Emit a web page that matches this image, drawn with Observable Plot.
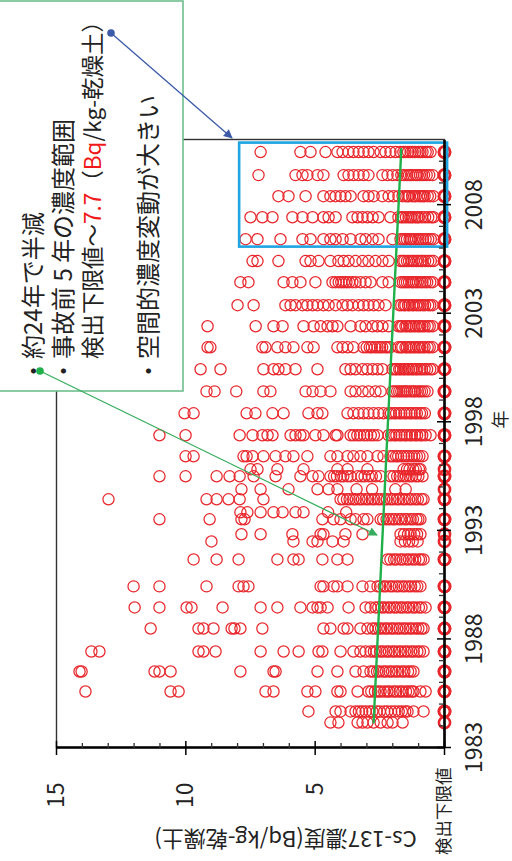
<!DOCTYPE html>
<html><head><meta charset="utf-8">
<script src="https://cdn.jsdelivr.net/npm/d3@7"></script>
<script src="https://cdn.jsdelivr.net/npm/@observablehq/plot@0.6"></script>
<style>
html,body{margin:0;padding:0;background:#fff;width:512px;height:861px;overflow:hidden;}
#wrap{position:absolute;left:0;top:0;width:861px;height:512px;transform-origin:0 0;transform:translate(0px,861px) rotate(-90deg);background:#fff;}
#wrap svg{position:absolute;left:0;top:0;overflow:visible;}
</style></head><body><div id="wrap"></div>
<script>
// ---- data ----
const r1984a = [4.41, 4.10, 3.36, 3.17, 2.98, 2.74, 2.47, 2.20, 2.01, 1.62, 0];
const r1984b = [5.26, 4.21, 4.02, 3.63, 3.44, 3.31, 3.18, 3.05, 2.90, 2.79, 2.62, 2.50, 2.33, 2.21, 2.06, 1.92, 1.77, 1.65, 1.52, 1.43, 1.20, 0.81, 0, 0];
const r1985 = [13.88, 10.59, 10.28, 6.92, 6.61, 5.30, 4.99, 4.14, 4.02, 3.36, 2.94, 2.83, 2.69, 2.57, 2.47, 2.33, 2.21, 2.12, 1.97, 1.87, 1.73, 1.63, 1.49, 1.39, 1.27, 1.20, 0.93, 0.73, 0, 0];
const r1986 = [14.11, 14.03, 11.21, 11.02, 10.59, 7.89, 6.61, 6.53, 4.91, 4.14, 3.44, 3.13, 2.86, 2.75, 2.61, 2.52, 2.37, 2.27, 2.13, 2.03, 1.89, 1.79, 1.65, 1.55, 1.41, 1.31, 1.20, 0, 0];
const r1987 = [13.65, 13.34, 9.51, 9.32, 8.85, 7.11, 6.22, 5.64, 4.87, 4.72, 4.02, 3.52, 3.25, 3.05, 2.86, 2.73, 2.63, 2.49, 2.39, 2.25, 2.15, 2.01, 1.91, 1.77, 1.67, 1.53, 1.43, 1.29, 1.19, 1.05, 0.95, 0.81, 0, 0];
const r1988 = [11.36, 9.51, 9.32, 8.93, 8.23, 8.12, 7.89, 7.04, 4.68, 4.41, 3.90, 3.75, 3.25, 2.98, 2.78, 2.67, 2.54, 2.45, 2.31, 2.21, 2.07, 1.97, 1.83, 1.73, 1.59, 1.49, 1.35, 1.25, 1.11, 1.01, 0.89, 0.81, 0, 0];
const r1989 = [11.98, 11.02, 9.97, 9.78, 8.58, 7.11, 6.46, 5.57, 5.10, 4.91, 4.79, 4.52, 3.71, 3.05, 2.86, 2.67, 2.56, 2.43, 2.33, 2.19, 2.09, 1.95, 1.85, 1.71, 1.61, 1.47, 1.37, 1.23, 1.13, 0.99, 0.89, 0.73, 0, 0];
const r1990 = [12.02, 11.02, 9.20, 7.96, 7.77, 7.58, 4.79, 4.68, 4.29, 4.14, 3.75, 3.17, 2.86, 2.59, 2.49, 2.35, 2.26, 2.11, 2.01, 1.87, 1.77, 1.63, 1.53, 1.39, 1.29, 1.15, 1.05, 0.93, 0, 0];
const r1991 = [9.70, 8.81, 7.96, 6.46, 5.84, 5.64, 4.72, 4.14, 3.75, 2.20, 2.09, 1.95, 1.86, 1.71, 1.61, 1.47, 1.37, 1.24, 1.13, 0.99, 0.91, 0.81, 0, 0];
const r1992a = [9.01, 5.84, 5.10, 4.91, 4.33, 3.90, 1.70, 1.53, 1.37, 1.23, 1.04, 0];
const r1992b = [7.85, 7.11, 5.88, 4.79, 4.68, 3.83, 3.17, 1.70, 1.56, 1.41, 1.31, 1.17, 1.06, 0.93, 0];
const r1993a = [11.02, 9.08, 7.85, 7.73, 4.72, 4.29, 4.02, 3.63, 3.44, 3.13, 2.98, 2.47, 2.37, 2.24, 2.13, 2.01, 1.91, 1.77, 1.67, 1.54, 1.45, 1.31, 1.22, 1.09, 1.01, 0.93, 0, 0];
const r1993b = [7.89, 7.62, 7.11, 6.61, 6.26, 5.76, 5.45, 4.50, 3.80];
const r1994a = [12.99, 9.20, 8.81, 8.35, 7.92, 7.00, 4.02, 3.91, 3.77, 3.67, 3.53, 3.43, 3.29, 3.19, 3.05, 2.95, 2.81, 2.71, 2.57, 2.47, 2.33, 2.23, 2.09, 1.99, 1.85, 1.75, 1.61, 1.51, 1.37, 1.27, 1.13, 1.03, 0.89, 0.81, 0, 0];
const r1994b = [7.85, 7.11, 6.03, 4.91, 4.48, 4.14, 3.40, 2.80, 1.90, 1.50, 0];
const r1995a = [11.02, 10.01, 8.81, 8.31, 7.92, 7.38, 6.53, 5.57, 5.10, 4.87, 4.41, 4.27, 4.16, 4.01, 3.91, 3.75, 3.63, 3.36, 3.21, 3.09, 2.93, 2.81, 2.65, 2.47, 2.09, 1.97, 1.83, 1.73, 1.59, 1.49, 1.35, 1.25, 1.11, 1.01, 0.85, 0, 0];
const r1995b = [7.50, 7.23, 6.46, 5.45, 4.14, 3.75, 2.98, 1.58, 1.45, 1.35, 1.21, 1.11, 0.99, 0.93, 0];
const r1996 = [10.01, 9.70, 7.77, 7.65, 7.42, 7.00, 6.53, 6.15, 5.84, 5.30, 4.41, 4.14, 3.75, 3.52, 3.25, 2.98, 2.59, 2.36, 2.09, 1.99, 1.87, 1.79, 1.67, 1.57, 1.47, 1.39, 1.27, 1.17, 1.07, 0.97, 0.85, 0, 0];
const r1997 = [11.02, 10.01, 7.92, 7.42, 7.04, 6.84, 6.65, 5.95, 5.76, 5.57, 5.45, 4.99, 4.68, 4.21, 4.14, 3.63, 3.51, 3.37, 3.26, 3.11, 2.99, 2.85, 2.73, 2.59, 2.16, 2.06, 1.94, 1.86, 1.74, 1.66, 1.54, 1.46, 1.34, 1.26, 1.14, 1.06, 0.94, 0.86, 0.73, 0.54, 0, 0];
const r1998 = [10.05, 9.70, 7.65, 7.31, 6.65, 6.22, 5.26, 4.91, 4.72, 3.75, 3.52, 3.32, 3.13, 2.94, 2.74, 2.55, 2.36, 2.16, 2.07, 1.95, 1.87, 1.75, 1.67, 1.55, 1.47, 1.35, 1.27, 1.15, 1.07, 0.95, 0.87, 0.76, 0, 0];
const r1999 = [9.20, 8.89, 8.05, 7.00, 6.73, 5.37, 5.10, 4.79, 4.41, 3.63, 3.44, 3.17, 2.94, 2.67, 2.47, 2.01, 1.93, 1.83, 1.75, 1.67, 1.59, 1.51, 1.45, 1.35, 1.27, 1.19, 1.13, 1.03, 0.95, 0.87, 0.77, 0.66, 0, 0];
const r2000 = [9.43, 8.66, 7.00, 6.61, 6.42, 6.15, 5.76, 4.91, 3.83, 3.63, 3.44, 3.17, 2.98, 2.78, 2.59, 2.40, 2.01, 1.91, 1.85, 1.75, 1.69, 1.59, 1.53, 1.43, 1.37, 1.27, 1.21, 1.11, 1.05, 0.95, 0.87, 0.77, 0.67, 0.55, 0.46, 0, 0];
const r2001 = [9.16, 9.05, 7.04, 6.92, 6.46, 6.15, 5.84, 5.30, 5.06, 4.14, 3.94, 3.75, 3.52, 3.13, 3.01, 2.89, 2.81, 2.69, 2.59, 2.49, 2.41, 2.29, 2.21, 2.10, 1.78, 1.69, 1.63, 1.51, 1.45, 1.35, 1.29, 1.19, 1.11, 1.01, 0.95, 0.85, 0.77, 0.65, 0.57, 0.46, 0, 0];
const r2002 = [9.16, 7.30, 6.61, 6.26, 5.45, 5.06, 4.79, 4.52, 4.33, 4.14, 3.63, 3.25, 3.05, 2.78, 2.59, 2.40, 2.16, 1.78, 1.69, 1.63, 1.51, 1.45, 1.35, 1.29, 1.19, 1.11, 1.01, 0.95, 0.85, 0.77, 0.65, 0.57, 0.46, 0, 0];
const r2003 = [8.00, 7.38, 6.15, 5.95, 5.76, 5.49, 5.30, 5.10, 4.91, 4.68, 4.48, 4.21, 3.94, 3.75, 3.56, 3.32, 3.13, 2.94, 2.74, 2.55, 2.28, 1.75, 1.67, 1.57, 1.51, 1.41, 1.35, 1.25, 1.19, 1.09, 1.01, 0.93, 0.83, 0.75, 0.63, 0.55, 0.46, 0, 0];
const r2004 = [7.89, 7.58, 6.22, 5.88, 5.57, 4.99, 4.33, 4.21, 4.09, 3.99, 3.89, 3.79, 3.69, 3.56, 3.44, 3.25, 3.05, 2.86, 2.40, 2.16, 1.70, 1.61, 1.53, 1.45, 1.37, 1.27, 1.21, 1.11, 1.03, 0.93, 0.85, 0.75, 0.67, 0.55, 0.46, 0, 0];
const r2005 = [7.42, 7.23, 6.42, 5.37, 5.18, 4.87, 4.41, 4.10, 3.90, 3.71, 3.44, 3.17, 2.94, 2.67, 2.40, 2.16, 1.70, 1.61, 1.55, 1.45, 1.37, 1.27, 1.19, 1.09, 1.01, 0.91, 0.85, 0.75, 0.63, 0.53, 0.43, 0, 0];
const r2006 = [7.69, 7.23, 6.34, 5.49, 5.18, 4.68, 4.41, 4.21, 3.94, 3.63, 3.25, 3.05, 2.78, 2.55, 2.01, 1.70, 1.61, 1.53, 1.45, 1.35, 1.29, 1.19, 1.11, 1.01, 0.93, 0.83, 0.73, 0.63, 0.53, 0.43, 0, 0];
const r2007 = [7.50, 7.04, 6.65, 5.88, 5.49, 5.10, 4.68, 4.48, 4.21, 3.56, 3.36, 3.17, 2.98, 2.78, 2.55, 2.09, 1.78, 1.67, 1.59, 1.49, 1.39, 1.31, 1.23, 1.13, 1.05, 0.99, 0.87, 0.75, 0.63, 0.51, 0.43, 0, 0];
const r2008 = [6.42, 6.03, 5.37, 4.68, 4.41, 4.21, 4.02, 3.83, 3.63, 3.13, 2.94, 2.74, 2.40, 2.16, 1.97, 1.78, 1.62, 1.51, 1.43, 1.37, 1.25, 1.17, 1.11, 0.99, 0.91, 0.83, 0.77, 0.65, 0.55, 0.43, 0, 0];
const r2009 = [7.19, 5.76, 5.49, 5.30, 4.91, 4.68, 3.90, 3.71, 3.52, 3.32, 3.13, 2.94, 2.40, 2.20, 2.01, 1.82, 1.67, 1.57, 1.45, 1.37, 1.29, 1.21, 1.11, 1.05, 0.95, 0.87, 0.79, 0.69, 0.59, 0.46, 0, 0];
const r2010 = [7.11, 5.57, 5.18, 4.60, 4.14, 3.94, 3.71, 3.52, 3.32, 3.13, 2.94, 2.74, 2.47, 2.28, 2.09, 1.89, 1.71, 1.59, 1.51, 1.41, 1.31, 1.23, 1.13, 1.01, 0.93, 0.85, 0.73, 0.65, 0.54, 0, 0];

const sampleYears = [1984.15, 1984.66, 1985.58, 1986.5, 1987.42, 1988.48, 1989.45, 1990.42, 1991.66, 1992.49, 1992.82, 1993.51, 1993.83, 1994.43, 1994.89, 1995.49, 1995.81, 1996.41, 1997.38, 1998.39, 1999.40, 2000.42, 2001.43, 2002.40, 2003.37, 2004.43, 2005.40, 2006.41, 2007.42, 2008.39, 2009.36, 2010.42];
const sampleRows = [r1984a, r1984b, r1985, r1986, r1987, r1988, r1989, r1990, r1991, r1992a, r1992b, r1993a, r1993b, r1994a, r1994b, r1995a, r1995b, r1996, r1997, r1998, r1999, r2000, r2001, r2002, r2003, r2004, r2005, r2006, r2007, r2008, r2009, r2010];

const trendYears = [1984.15, 1997.4, 2010.55];
const trendValues = [2.74, 2.21, 1.67];

const highlightYears = [2006.09, 2010.88];
const highlightValues = [-0.12, 7.92];

const yearLabels = [1983, 1988, 1993, 1998, 2003, 2008];
const yearMinor = [1984,1985,1986,1987,1989,1990,1991,1992,1994,1995,1996,1997,1999,2000,2001,2002,2004,2005,2006,2007,2009,2010];
const valueLabels = [5, 10, 15];
const valueMajor = [0, 5, 10, 15];
const valueMinor = [1,2,3,4,6,7,8,9,11,12,13,14];

const yTitle = "Cs-137濃度(Bq/kg-乾燥土)";
const xTitle = "年";
const zeroLabel = "検出下限値";

// ---- chart (drawn in landscape, then turned) ----
const W = 861, H = 512, mL = 113, mR = 140, mT = 56, mB = 68;
const plotW = W - mL - mR, plotH = H - mT - mB;
const points = sampleYears.flatMap((t, i) => sampleRows[i].map(v => ({year: t, value: v})));
const trend = trendYears.map((t, i) => ({year: t, value: trendValues[i]}));
const FONT = "'Noto Sans CJK JP', 'Noto Sans', sans-serif";
const RED = "#e8262b";

const chart = Plot.plot({
  width: W, height: H,
  marginLeft: mL, marginRight: mR, marginTop: mT, marginBottom: mB,
  x: {domain: [1983, 2011]},
  y: {domain: [0, 15]},
  style: {fontFamily: FONT, fontSize: "23px", color: "#222", background: "white", overflow: "visible"},
  marks: [
    Plot.dot(points.filter(d => d.value > 0), {x: "year", y: "value", r: 5.6, stroke: RED, strokeWidth: 1.25, fill: "none"}),
    Plot.dot(points.filter(d => d.value === 0), {x: "year", y: "value", r: 5.6, stroke: RED, strokeWidth: 2.6, fill: "none"}),
    Plot.line(trend, {x: "year", y: "value", stroke: "#1fb04a", strokeWidth: 2.4}),
    Plot.rect([0], {x1: () => highlightYears[0], x2: () => highlightYears[1], y1: () => highlightValues[0], y2: () => highlightValues[1], fill: "none", stroke: "#1ea5e2", strokeWidth: 2.6}),
    Plot.frame({stroke: "#333", strokeWidth: 1.4}),
    Plot.ruleX([1983], {stroke: "#000", strokeWidth: 2.6}),
    Plot.ruleY([0], {stroke: "#000", strokeWidth: 2.6}),
    Plot.ruleX(yearMinor, {x: d => d, insetTop: plotH - 5, stroke: "#333", strokeWidth: 1.3}),
    Plot.ruleX(yearLabels, {x: d => d, insetTop: plotH - 7, insetBottom: -7, stroke: "#000", strokeWidth: 1.5}),
    Plot.ruleY(valueMinor, {y: d => d, insetRight: plotW - 5, stroke: "#333", strokeWidth: 1.3}),
    Plot.ruleY(valueMajor, {y: d => d, insetRight: plotW - 7, insetLeft: -7, stroke: "#000", strokeWidth: 1.5}),
    Plot.axisX({ticks: yearLabels, tickSize: 0, tickPadding: 21, tickFormat: d => String(d), fontSize: 23, label: null}),
    Plot.axisY({ticks: valueLabels, tickSize: 0, tickPadding: 35, tickFormat: d => String(d), fontSize: 23, label: null}),
    Plot.text([zeroLabel], {text: d => d, frameAnchor: "bottom-left", dx: -20, textAnchor: "end", lineAnchor: "middle", fontSize: 17.5}),
    Plot.text([yTitle], {text: d => d, frameAnchor: "left", dx: -91, dy: 35, rotate: -90, textAnchor: "middle", lineAnchor: "middle", fontSize: 22}),
    Plot.text([xTitle], {text: d => d, frameAnchor: "bottom", dx: 24, dy: 57, textAnchor: "middle", lineAnchor: "middle", fontSize: 18})
  ]
});
const wrap = document.getElementById("wrap");
wrap.appendChild(chart);

// ---- annotation layer (same landscape frame) ----
const ns = "http://www.w3.org/2000/svg";
const ov = document.createElementNS(ns, "svg");
ov.setAttribute("width", W); ov.setAttribute("height", H);
ov.innerHTML = `
<defs>
  <marker id="ahB" viewBox="0 0 10 10" refX="9" refY="5" markerWidth="10" markerHeight="9" markerUnits="userSpaceOnUse" orient="auto"><path d="M0,0L10,5L0,10Z" fill="#3b5aa8"/></marker>
  <marker id="ahG" viewBox="0 0 10 10" refX="9" refY="5" markerWidth="10" markerHeight="9" markerUnits="userSpaceOnUse" orient="auto"><path d="M0,0L10,5L0,10Z" fill="#36ad5c"/></marker>
</defs>
<rect x="470" y="-1" width="390" height="184" fill="#fff" stroke="#6fbf8e" stroke-width="1.6"/>
<g font-family="${FONT}" font-size="24" fill="#222" dominant-baseline="central">
  <text x="490" y="31" text-anchor="middle">・</text>
  <text x="502" y="31">約24年で半減</text>
  <text x="490" y="61" text-anchor="middle">・</text>
  <text x="502" y="61">事故前 5 年の濃度範囲</text>
  <text x="502" y="91" font-size="22.5">検出下限値～<tspan fill="#f01818">7.7</tspan>（<tspan fill="#f01818">Bq</tspan>/kg-乾燥土）</text>
  <text x="490" y="146" text-anchor="middle">・</text>
  <text x="502" y="146">空間的濃度変動が大きい</text>
</g>
<line x1="490" y1="40" x2="326" y2="377" stroke="#36ad5c" stroke-width="1.3" marker-end="url(#ahG)"/>
<circle cx="490" cy="40" r="3.8" fill="#1fb04a"/>
<line x1="828" y1="111" x2="723" y2="232" stroke="#3b5aa8" stroke-width="1.3" marker-end="url(#ahB)"/>
<circle cx="828" cy="111" r="3.8" fill="#3b5aa8"/>
`;
wrap.appendChild(ov);
</script>
</body></html>
